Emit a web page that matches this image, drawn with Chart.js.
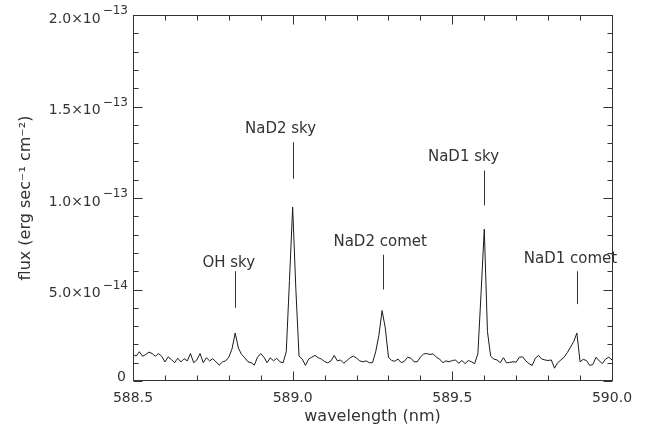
<!DOCTYPE html>
<html><head><meta charset="utf-8">
<script src="https://cdn.jsdelivr.net/npm/chart.js@4/dist/chart.umd.min.js"></script>
<style>html,body{margin:0;padding:0;background:#fff}canvas{display:block}</style>
</head><body>
<canvas id="c" width="651" height="430"></canvas>
<script>
// Wavelength grid (nm)
const wavelengthStart = 588.50;
const wavelengthStep = 0.01;
// Flux in units of 1e-14 erg s^-1 cm^-2, one value per grid point (588.50 ... 590.00)
const flux = [
  1.45,1.36,1.60,1.35,1.45,1.58,1.50,1.35,1.50,1.35,
  1.04,1.32,1.18,1.00,1.24,1.04,1.22,1.10,1.50,1.00,
  1.15,1.50,1.00,1.27,1.10,1.22,1.04,0.87,1.04,1.10,
  1.30,1.75,2.62,1.80,1.45,1.27,1.05,1.00,0.87,1.30,
  1.50,1.30,1.00,1.27,1.10,1.24,1.05,1.00,1.60,5.50,
  9.50,5.00,1.36,1.20,0.85,1.20,1.30,1.40,1.27,1.20,
  1.06,0.99,1.10,1.40,1.10,1.15,0.97,1.12,1.27,1.36,
  1.25,1.10,1.05,1.10,1.00,1.00,1.60,2.50,3.85,2.90,
  1.30,1.12,1.08,1.20,1.00,1.08,1.30,1.25,1.05,1.05,
  1.30,1.48,1.50,1.45,1.48,1.30,1.20,1.00,1.10,1.05,
  1.12,1.15,0.97,1.12,0.95,1.12,1.05,0.95,1.50,4.80,
  8.30,2.70,1.36,1.20,1.15,1.00,1.27,0.99,1.02,1.05,
  1.03,1.30,1.32,1.10,0.95,0.85,1.25,1.40,1.20,1.15,
  1.12,1.15,0.70,1.00,1.15,1.30,1.55,1.85,2.15,2.62,
  1.05,1.18,1.12,0.85,0.90,1.30,1.10,0.95,1.20,1.30,
  1.15
];
const xTicks = [588.5, 589.0, 589.5, 590.0];
const xTickLabels = ['588.5', '589.0', '589.5', '590.0'];
const yTicks = [0, 5, 10, 15, 20];
const yTickMantissa = ['0', '5.0×10', '1.0×10', '1.5×10', '2.0×10'];
const yTickExponent = ['', '−14', '−13', '−13', '−13'];
// Line annotations (data units)
const annLabels = ['OH sky', 'NaD2 sky', 'NaD2 comet', 'NaD1 sky', 'NaD1 comet'];
const annLineWave = [588.82, 589.00, 589.283, 589.60, 589.89];
const annLineLow = [4.0, 11.05, 5.0, 9.6, 4.2];
const annLineHigh = [6.0, 13.05, 6.9, 11.5, 6.0];
const annLabelWave = [588.80, 588.962, 589.274, 589.535, 589.87];
const annLabelFlux = [6.46, 13.74, 7.57, 12.25, 6.68];

const points = flux.map((f, i) => ({ x: wavelengthStart + wavelengthStep * i, y: f }));

const INK = '#333';
const FONT = '"DejaVu Sans", sans-serif';

const framePlugin = {
  id: 'frame',
  afterDatasetsDraw(chart) {
    const { ctx, chartArea: a, scales: { x, y } } = chart;
    ctx.save();
    ctx.strokeStyle = INK;
    ctx.lineWidth = 1;
    const L = Math.round(a.left) + 0.5, R = Math.round(a.right) + 0.5;
    const T = Math.round(a.top) + 0.5, B = Math.round(a.bottom) - 0.5;
    ctx.strokeRect(L, T, R - L, B - T);
    ctx.beginPath();
    // x ticks every 0.1 nm, inward on bottom and top
    for (let k = 0; k <= 15; k++) {
      const v = 588.5 + k * 0.1;
      const px = Math.round(x.getPixelForValue(v)) + 0.5;
      const len = (k % 5 === 0) ? 9 : 5;
      ctx.moveTo(px, B); ctx.lineTo(px, B - len);
      ctx.moveTo(px, T); ctx.lineTo(px, T + len);
    }
    // y ticks every 1e-14, inward on left and right
    for (let k = 0; k <= 20; k++) {
      const py = Math.round(y.getPixelForValue(k)) + 0.5;
      const len = (k % 5 === 0) ? 9 : 5;
      ctx.moveTo(L, py); ctx.lineTo(L + len, py);
      ctx.moveTo(R, py); ctx.lineTo(R - len, py);
    }
    ctx.stroke();
    // y tick labels with raised exponent
    ctx.fillStyle = INK;
    ctx.textBaseline = 'middle';
    ctx.textAlign = 'right';
    yTicks.forEach((v, i) => {
      const py = y.getPixelForValue(v);
      const exp = yTickExponent[i];
      if (!exp) {
        ctx.font = '14px ' + FONT;
        ctx.fillText(yTickMantissa[i], a.left - 7, py - 4);
      } else {
        ctx.font = '12px ' + FONT;
        const ew = ctx.measureText(exp).width;
        const ex = a.left - 5;
        ctx.fillText(exp, ex, py - 4);
        ctx.font = '14px ' + FONT;
        ctx.fillText(yTickMantissa[i], ex - ew - 2, py + 4);
      }
    });
    // annotations
    ctx.beginPath();
    annLineWave.forEach((w, i) => {
      const px = Math.round(x.getPixelForValue(w)) + 0.5;
      ctx.moveTo(px, y.getPixelForValue(annLineLow[i]));
      ctx.lineTo(px, y.getPixelForValue(annLineHigh[i]));
    });
    ctx.stroke();
    ctx.font = '15px ' + FONT;
    ctx.textAlign = 'center';
    ctx.textBaseline = 'middle';
    annLabels.forEach((t, i) => {
      ctx.fillText(t, x.getPixelForValue(annLabelWave[i]), y.getPixelForValue(annLabelFlux[i]));
    });
    ctx.restore();
  }
};

new Chart(document.getElementById('c'), {
  type: 'line',
  data: {
    datasets: [{
      data: points,
      borderColor: '#1a1a1a',
      borderWidth: 1,
      pointRadius: 0,
      tension: 0,
      fill: false
    }]
  },
  options: {
    responsive: false,
    animation: false,
    devicePixelRatio: 1,
    layout: { padding: { left: 0, right: 39, top: 15, bottom: 0 } },
    plugins: { legend: { display: false }, tooltip: { enabled: false } },
    scales: {
      x: {
        type: 'linear',
        min: 588.5, max: 590.0,
        grid: { display: false, drawTicks: false, tickLength: 0 },
        border: { display: false },
        afterBuildTicks: s => { s.ticks = xTicks.map(v => ({ value: v })); },
        afterFit: s => { s.height = 49; },
        ticks: {
          autoSkip: false, maxRotation: 0, padding: 9,
          color: INK, font: { family: FONT, size: 14 },
          callback: (v, i) => xTickLabels[i]
        },
        title: {
          display: true, text: 'wavelength (nm)', color: INK,
          font: { family: FONT, size: 16 }, padding: { top: 0, bottom: 4 }
        }
      },
      y: {
        type: 'linear',
        min: 0, max: 20,
        grid: { display: false, drawTicks: false, tickLength: 0 },
        border: { display: false },
        afterBuildTicks: s => { s.ticks = yTicks.map(v => ({ value: v })); },
        afterFit: s => { s.width = 133; },
        ticks: { display: false },
        title: {
          display: true, text: 'flux (erg sec⁻¹ cm⁻²)', color: INK,
          font: { family: FONT, size: 16 }, padding: { top: 16, bottom: 0 }
        }
      }
    }
  },
  plugins: [framePlugin]
});
</script>
</body></html>
